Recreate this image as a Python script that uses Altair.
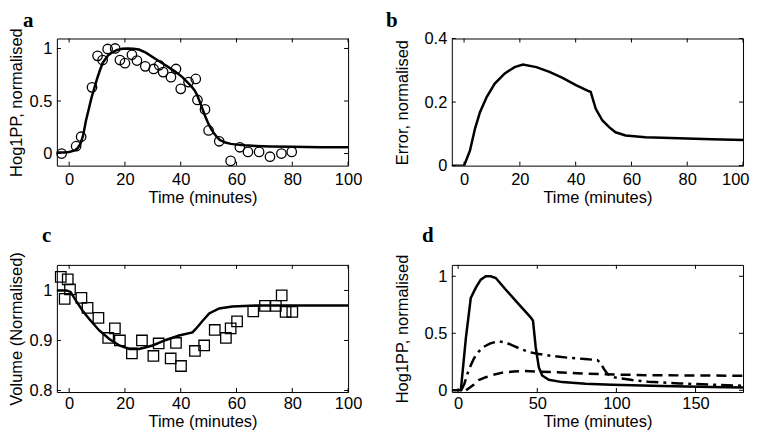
import altair as alt
import pandas as pd

# ---------------- data ----------------
# panel a: Hog1PP data (circles) and model fit
a_obs_x = [-2.7, 2.5, 4.3, 8.2, 10.2, 12.0, 13.8, 16.5, 18.2, 20.0, 22.5, 24.3, 27.3, 30.3, 32.3, 33.7,
           36.5, 38.3, 40.0, 42.8, 45.4, 46.0, 48.7, 50.0, 53.8, 57.9, 61.2, 64.1, 68.1, 72.0, 76.1, 79.8]
a_obs_y = [0.0, 0.07, 0.16, 0.63, 0.93, 0.89, 0.995, 1.0, 0.89, 0.86, 0.94, 0.885, 0.83, 0.805, 0.84, 0.775,
           0.727, 0.805, 0.616, 0.68, 0.71, 0.51, 0.42, 0.22, 0.117, -0.07, 0.06, 0.016, 0.016, -0.03, 0.0, 0.016]
a_fit_x = [-4.4, -2, 0, 2, 3, 4, 5, 6, 7, 8, 9, 10, 11, 12, 13, 14, 15, 17, 19, 21, 23, 25, 27.5, 31, 34, 36,
           38, 40.5, 42, 43.5, 45, 46, 47, 48, 49, 50, 51, 52, 53, 54, 56, 58, 60, 63, 67, 72, 80, 90, 100]
a_fit_y = [0.01, 0.01, 0.015, 0.03, 0.05, 0.09, 0.17, 0.31, 0.42, 0.53, 0.62, 0.71, 0.79, 0.86, 0.90, 0.935,
           0.955, 0.985, 0.998, 1.0, 0.998, 0.99, 0.96, 0.90, 0.85, 0.815, 0.78, 0.73, 0.69, 0.65, 0.60, 0.55,
           0.48, 0.41, 0.34, 0.28, 0.23, 0.19, 0.155, 0.13, 0.105, 0.092, 0.085, 0.078, 0.073, 0.068, 0.064,
           0.061, 0.06]

# panel b: error
b_x = [-4.4, 0, 2.1, 3.9, 5.7, 8.1, 11.0, 14.6, 18.1, 21.1, 25.9, 30.6, 35.3, 40.1, 44.8, 45.4, 47.2, 49.6,
       52, 54.3, 57.9, 65, 76.9, 88.7, 100]
b_y = [0, 0, 0.047, 0.116, 0.168, 0.216, 0.258, 0.29, 0.31, 0.318, 0.31, 0.295, 0.276, 0.253, 0.234, 0.232,
       0.179, 0.142, 0.121, 0.105, 0.095, 0.089, 0.086, 0.083, 0.081]

# panel c: volume data (squares) and model
c_obs_x = [-3.0, -0.5, -1.6, 0.3, 4.4, 6.6, 10.5, 14.0, 16.4, 18.2, 22.5, 26.1, 30.2, 32.1, 36.4, 38.3, 40.1,
           45.1, 48.4, 52.2, 56.2, 57.9, 60.2, 66.0, 70.2, 74.1, 76.2, 77.6, 80.0]
c_obs_y = [1.027, 1.022, 0.983, 1.002, 0.985, 0.965, 0.945, 0.905, 0.924, 0.90, 0.874, 0.90, 0.869, 0.894,
           0.864, 0.895, 0.849, 0.879, 0.89, 0.921, 0.905, 0.924, 0.938, 0.958, 0.969, 0.969, 0.99, 0.957, 0.957]
c_fit_x = [-4.4, -1, 0.5, 2.5, 4.9, 7.2, 10.8, 14.4, 18, 21.6, 25.1, 29.9, 34.7, 39.4, 44.2, 45.4, 47.8, 50.2,
           53.8, 58.5, 66.9, 80, 100]
c_fit_y = [1.0, 1.0, 0.997, 0.979, 0.959, 0.943, 0.92, 0.903, 0.89, 0.883, 0.883, 0.89, 0.901, 0.91, 0.916,
           0.923, 0.939, 0.954, 0.964, 0.968, 0.97, 0.97, 0.97]

# panel d: three simulated Hog1PP profiles
d_solid_x = [-4, 1.7, 4.9, 8, 11.2, 14.3, 17.5, 20.6, 23.8, 30, 38.4, 45.8, 47.3, 49, 51, 53.1, 57.3, 65.7,
             80.5, 97.2, 128.7, 160, 180]
d_solid_y = [0, 0, 0.46, 0.81, 0.90, 0.97, 1.0, 1.0, 0.985, 0.884, 0.754, 0.64, 0.61, 0.38, 0.20, 0.13, 0.093,
             0.072, 0.058, 0.049, 0.038, 0.03, 0.025]
d_dashdot_x = [2, 4, 6, 8, 10, 13, 16, 20, 25, 30, 35, 40, 45, 50, 60, 70, 80, 88, 90, 92, 94, 96, 100, 110,
               120, 140, 160, 180]
d_dashdot_y = [0, 0.06, 0.15, 0.22, 0.28, 0.34, 0.38, 0.41, 0.43, 0.42, 0.39, 0.36, 0.335, 0.32, 0.30, 0.285,
               0.275, 0.265, 0.24, 0.19, 0.15, 0.125, 0.11, 0.09, 0.075, 0.06, 0.05, 0.04]
d_dash_x = [5, 7, 10, 13, 17.5, 22, 28, 35, 42, 50, 60, 75, 90, 100, 120, 150, 180]
d_dash_y = [0, 0.02, 0.05, 0.09, 0.115, 0.135, 0.155, 0.165, 0.17, 0.165, 0.16, 0.15, 0.142, 0.138, 0.133,
            0.13, 0.128]

# axis ticks
time_ticks = [0, 20, 40, 60, 80, 100]
d_time_ticks = [0, 50, 100, 150]
a_yticks = [0, 0.5, 1]
b_yticks = [0, 0.2, 0.4]
c_yticks = [0.8, 0.9, 1]
d_yticks = [0, 0.5, 1]

XTITLE = "Time (minutes)"
FONT = "Liberation Sans"
FS = 16.5
TICK = 4
W = 292
H = 127.5


def df(xs, ys):
    return pd.DataFrame({"x": xs, "y": ys})


def panel(letter, letter_pos, series, points, xdom, ydom, xticks, yticks, ytitle, ytitle_x,
          label_pad, title_y, flush=False):
    xs = alt.Scale(domain=xdom, nice=False, zero=False)
    ys = alt.Scale(domain=ydom, nice=False, zero=False)
    common = dict(ticks=False, tickSize=0, domain=False, grid=False,
                  labelFont=FONT, labelFontSize=FS, labelColor="black",
                  titleFont=FONT, titleFontSize=FS, titleFontWeight="normal", titleColor="black",
                  titleBaseline="alphabetic")
    xflush = dict(labelFlush=True, labelFlushOffset=6) if flush else dict(labelFlush=False)
    xax = alt.Axis(values=xticks, format="d", title=XTITLE, labelPadding=label_pad, titleY=title_y,
                   **xflush, **common)
    yax = alt.Axis(values=yticks, format="~g", title=ytitle, labelPadding=5, titleX=ytitle_x,
                   labelFlush=False, **common)

    def X():
        return alt.X("x:Q", scale=xs, axis=xax)

    def Y():
        return alt.Y("y:Q", scale=ys, axis=yax)

    layers = []
    for xs_, ys_, dash in series:
        kw = dict(color="black", strokeWidth=2.5, clip=True)
        if dash:
            kw["strokeDash"] = dash
        layers.append(alt.Chart(df(xs_, ys_)).mark_line(**kw).encode(x=X(), y=Y()))
    if points is not None:
        px, py, shape, size = points
        layers.append(alt.Chart(df(px, py)).mark_point(
            shape=shape, filled=False, size=size, strokeWidth=1.3, color="black", opacity=1
        ).encode(x=X(), y=Y()))

    xt = pd.DataFrame({"x": xticks})
    yt = pd.DataFrame({"y": yticks})
    layers.append(alt.Chart(xt).mark_rule(color="black", strokeWidth=1).encode(
        x=X(), y=alt.value(H), y2=alt.value(H - TICK)))
    layers.append(alt.Chart(xt).mark_rule(color="black", strokeWidth=1).encode(
        x=X(), y=alt.value(0), y2=alt.value(TICK)))
    layers.append(alt.Chart(yt).mark_rule(color="black", strokeWidth=1).encode(
        y=Y(), x=alt.value(0), x2=alt.value(TICK)))
    layers.append(alt.Chart(yt).mark_rule(color="black", strokeWidth=1).encode(
        y=Y(), x=alt.value(W), x2=alt.value(W - TICK)))

    lx, ly = letter_pos
    layers.append(alt.Chart(pd.DataFrame({"t": [letter]})).mark_text(
        font="Liberation Serif", fontSize=21, fontWeight="bold", align="left",
        baseline="alphabetic", color="black"
    ).encode(text="t:N", x=alt.value(lx), y=alt.value(ly)))

    return alt.layer(*layers).properties(width=W, height=H)


pa = panel("a", (-34, -12),
           [(a_fit_x, a_fit_y, None)], (a_obs_x, a_obs_y, "circle", 90),
           [-4.4, 100], [-0.115, 1.095], time_ticks, a_yticks, "Hog1PP, normalised", -35, 6, 37)
pb = panel("b", (-66, -12),
           [(b_x, b_y, None)], None,
           [-4.4, 100], [0, 0.4], time_ticks, b_yticks, "Error, normalised", -44, 6, 37, flush=True)
pc = panel("c", (-15, -23),
           [(c_fit_x, c_fit_y, None)], (c_obs_x, c_obs_y, "square", 110),
           [-4.4, 100], [0.797, 1.051], time_ticks, c_yticks, "Volume (Normalised)", -35, 4, 34.5)
pd_ = panel("d", (-30, -23),
            [(d_solid_x, d_solid_y, None), (d_dashdot_x, d_dashdot_y, [12, 5, 3, 5]),
             (d_dash_x, d_dash_y, [10, 6])], None,
            [-4, 180], [-0.015, 1.1], d_time_ticks, d_yticks, "Hog1PP, normalised", -44, 4, 34.5)

chart = alt.concat(pa, pb, pc, pd_, columns=2).properties(
    spacing=alt.RowColnumber(row=99, column=104),
    bounds="flush",
    padding=0,
    background="white",
).configure_view(stroke="black", strokeWidth=1)

chart.save("out.html", embed_options={"renderer": "svg", "actions": False})
